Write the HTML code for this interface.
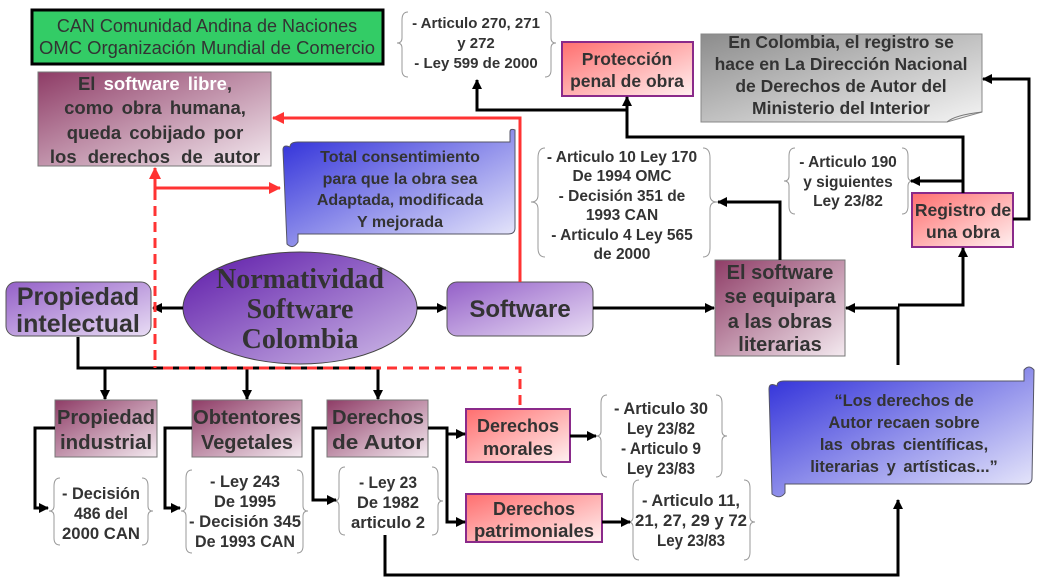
<!DOCTYPE html>
<html><head><meta charset="utf-8"><style>
html,body{margin:0;padding:0;background:#fff;}
svg{display:block;}
text{font-family:"Liberation Sans",sans-serif;font-weight:bold;fill:#333;text-anchor:middle;}
.s{font-family:"Liberation Serif","DejaVu Serif",serif;}
</style></head><body>
<svg width="1045" height="587" viewBox="0 0 1045 587" xmlns="http://www.w3.org/2000/svg">
<defs>
<linearGradient id="mar" x1="0" y1="0" x2="1" y2="1"><stop offset="0" stop-color="#8e3c66"/><stop offset="1" stop-color="#f4eaf0"/></linearGradient>
<linearGradient id="pur" x1="0" y1="0" x2="1" y2="1"><stop offset="0" stop-color="#9460c8"/><stop offset="1" stop-color="#e8dcf4"/></linearGradient>
<linearGradient id="ell" x1="0" y1="0" x2="1" y2="1"><stop offset="0" stop-color="#5c18a8"/><stop offset="1" stop-color="#d0bce8"/></linearGradient>
<linearGradient id="pink" x1="0" y1="0" x2="1" y2="1"><stop offset="0" stop-color="#ff6e6e"/><stop offset="1" stop-color="#fff0f0"/></linearGradient>
<linearGradient id="gray" x1="0" y1="0" x2="1" y2="1"><stop offset="0" stop-color="#8c8c8c"/><stop offset="1" stop-color="#f4f4f4"/></linearGradient>
<linearGradient id="blue" x1="0" y1="0" x2="1" y2="1"><stop offset="0" stop-color="#2a2ad8"/><stop offset="1" stop-color="#eeeefc"/></linearGradient>
<marker id="ab" markerWidth="10" markerHeight="10" refX="9" refY="5" orient="auto" markerUnits="userSpaceOnUse"><path d="M0,0 L10,5 L0,10 z" fill="#000"/></marker>
<marker id="ar" markerWidth="12" markerHeight="12" refX="11" refY="6" orient="auto" markerUnits="userSpaceOnUse"><path d="M0,0 L12,6 L0,12 z" fill="#f33"/></marker>
</defs>

<rect x="32" y="10" width="351" height="54" fill="#33cc66" stroke="#000" stroke-width="3"/>
<text x="207" y="32" style="font-weight:normal;font-size:18px">CAN Comunidad Andina de Naciones</text>
<text x="207" y="54" style="font-weight:normal;font-size:18px" textLength="336" lengthAdjust="spacingAndGlyphs">OMC Organización Mundial de Comercio</text>

<rect x="38" y="72" width="233" height="94" fill="url(#mar)" stroke="#777"/>
<text x="155" y="90" style="font-size:18.5px;word-spacing:3px">El <tspan fill="#fff">software libre</tspan>,</text>
<text x="155" y="114" style="font-size:18.5px;word-spacing:3px">como obra humana,</text>
<text x="155" y="139" style="font-size:18.5px;word-spacing:3px">queda cobijado por</text>
<text x="155" y="163" style="font-size:18.5px;word-spacing:6px">los derechos de autor</text>

<path d="M290,147 Q290,142 298,142 L510,142 L510,132 Q510,128 515,130 L515,228 Q515,234 508,234 L298,234 L298,242 Q293,250 287,244 L283,150 Q283,144 290,147z" fill="url(#blue)" stroke="#556"/>
<text x="400" y="162" style="font-size:16px">Total consentimiento</text>
<text x="400" y="184" style="font-size:16px">para que la obra sea</text>
<text x="400" y="205" style="font-size:16px">Adaptada, modificada</text>
<text x="400" y="227" style="font-size:16px">Y mejorada</text>

<path d="M408,12 Q402,12 402,20 L402,38 Q402,43 397,43 Q402,43 402,48 L402,70 Q402,77 408,77" fill="none" stroke="#999"/>
<text x="476" y="28" style="font-size:15px">- Articulo 270, 271</text>
<text x="476" y="48" style="font-size:15px">y 272</text>
<text x="476" y="68" style="font-size:15px">- Ley 599 de 2000</text>
<path d="M545,12 Q551,12 551,20 L551,38 Q551,43 556,43 Q551,43 551,48 L551,70 Q551,77 545,77" fill="none" stroke="#999"/>

<rect x="562" y="42" width="131" height="54" fill="url(#pink)" stroke="#8a2a8a" stroke-width="2"/>
<text x="627" y="65" style="font-size:17.5px">Protección</text>
<text x="627" y="87" style="font-size:17.5px">penal de obra</text>

<path d="M701,34 L982,34 L982,112 L947,122 L701,122z" fill="url(#gray)" stroke="#888"/>
<path d="M947,122 Q955,115 982,112" fill="none" stroke="#777"/>
<text x="841" y="48" style="font-size:17.5px">En Colombia, el registro se</text>
<text x="841" y="70" style="font-size:17.5px">hace en La Dirección Nacional</text>
<text x="841" y="92" style="font-size:17.5px">de Derechos de Autor del</text>
<text x="841" y="114" style="font-size:17.5px">Ministerio del Interior</text>

<ellipse cx="300" cy="308" rx="117" ry="56" fill="url(#ell)" stroke="#444"/>
<text class="s" x="300" y="288" style="font-size:28px">Normatividad</text>
<text class="s" x="300" y="318" style="font-size:28px">Software</text>
<text class="s" x="300" y="348" style="font-size:28px">Colombia</text>

<rect x="6" y="282" width="145" height="54" rx="10" fill="url(#pur)" stroke="#555"/>
<text x="78" y="305" style="font-size:25px">Propiedad</text>
<text x="78" y="332" style="font-size:25px">intelectual</text>

<rect x="447" y="282" width="146" height="54" rx="10" fill="url(#pur)" stroke="#555"/>
<text x="520" y="317" style="font-size:24px">Software</text>

<rect x="715" y="260" width="130" height="96" fill="url(#mar)" stroke="#777"/>
<text x="780" y="279" style="font-size:20px">El software</text>
<text x="780" y="303" style="font-size:20px">se equipara</text>
<text x="780" y="328" style="font-size:20px">a las obras</text>
<text x="780" y="351" style="font-size:20px">literarias</text>

<path d="M545,148 Q538,148 538,158 L538,195 Q538,202 531,202 Q538,202 538,209 L538,248 Q538,257 545,257" fill="none" stroke="#999"/>
<path d="M703,148 Q710,148 710,158 L710,195 Q710,202 717,202 Q710,202 710,209 L710,248 Q710,257 703,257" fill="none" stroke="#999"/>
<text x="622" y="162" style="font-size:15.5px">- Articulo 10 Ley 170</text>
<text x="622" y="181" style="font-size:15.5px">De 1994 OMC</text>
<text x="622" y="201" style="font-size:15.5px">- Decisión 351 de</text>
<text x="622" y="220" style="font-size:15.5px">1993 CAN</text>
<text x="622" y="240" style="font-size:15.5px">- Articulo 4 Ley 565</text>
<text x="622" y="259" style="font-size:15.5px">de 2000</text>

<path d="M795,148 Q789,148 789,156 L789,176 Q789,181 784,181 Q789,181 789,186 L789,206 Q789,214 795,214" fill="none" stroke="#999"/>
<path d="M902,148 Q908,148 908,156 L908,176 Q908,181 913,181 Q908,181 908,186 L908,206 Q908,214 902,214" fill="none" stroke="#999"/>
<text x="848" y="167" style="font-size:15.5px">- Articulo 190</text>
<text x="848" y="187" style="font-size:15.5px">y siguientes</text>
<text x="848" y="206" style="font-size:15.5px">Ley 23/82</text>

<rect x="912" y="193" width="101" height="54" fill="url(#pink)" stroke="#8a2a8a" stroke-width="2"/>
<text x="963" y="216" style="font-size:17.5px">Registro de</text>
<text x="963" y="238" style="font-size:17.5px">una obra</text>

<path d="M777,386 Q777,381 784,381 L1024,381 L1024,370 Q1029,364 1034,370 L1032,478 Q1032,484 1025,484 L785,484 L785,493 Q780,500 772,494 L769,389 Q769,382 777,386z" fill="url(#blue)" stroke="#556"/>
<text x="904" y="406" style="font-size:16.5px">“Los derechos de</text>
<text x="904" y="428" style="font-size:16.5px">Autor recaen sobre</text>
<text x="904" y="450" style="font-size:16.5px;word-spacing:3px">las obras científicas,</text>
<text x="904" y="472" style="font-size:16.5px;word-spacing:3px">literarias y artísticas...”</text>

<rect x="55" y="400" width="102" height="57" fill="url(#mar)" stroke="#777"/>
<text x="106" y="424" style="font-size:20px" textLength="98" lengthAdjust="spacingAndGlyphs">Propiedad</text>
<text x="106" y="449" style="font-size:20px" textLength="92" lengthAdjust="spacingAndGlyphs">industrial</text>
<rect x="192" y="400" width="110" height="57" fill="url(#mar)" stroke="#777"/>
<text x="247" y="424" style="font-size:20px" textLength="108" lengthAdjust="spacingAndGlyphs">Obtentores</text>
<text x="247" y="449" style="font-size:20px" textLength="92" lengthAdjust="spacingAndGlyphs">Vegetales</text>
<rect x="327" y="400" width="101" height="57" fill="url(#mar)" stroke="#777"/>
<text x="378" y="424" style="font-size:20px" textLength="92" lengthAdjust="spacingAndGlyphs">Derechos</text>
<text x="378" y="449" style="font-size:20px" textLength="92" lengthAdjust="spacingAndGlyphs">de Autor</text>
<rect x="466" y="409" width="104" height="53" fill="url(#pink)" stroke="#8a2a8a" stroke-width="2"/>
<text x="518" y="432" style="font-size:18px" textLength="82" lengthAdjust="spacingAndGlyphs">Derechos</text>
<text x="518" y="455" style="font-size:18px" textLength="70" lengthAdjust="spacingAndGlyphs">morales</text>
<rect x="466" y="494" width="136" height="48" fill="url(#pink)" stroke="#8a2a8a" stroke-width="2"/>
<text x="534" y="515" style="font-size:18px" textLength="82" lengthAdjust="spacingAndGlyphs">Derechos</text>
<text x="534" y="537" style="font-size:18px" textLength="120" lengthAdjust="spacingAndGlyphs">patrimoniales</text>

<g fill="none" stroke="#999">
<path d="M60,478 Q54,478 54,486 L54,506 Q54,511 49,511 Q54,511 54,516 L54,538 Q54,545 60,545"/>
<path d="M142,478 Q148,478 148,486 L148,506 Q148,511 153,511 Q148,511 148,516 L148,538 Q148,545 142,545"/>
<path d="M192,470 Q186,470 186,478 L186,506 Q186,511 181,511 Q186,511 186,516 L186,546 Q186,553 192,553"/>
<path d="M297,470 Q303,470 303,478 L303,506 Q303,511 308,511 Q303,511 303,516 L303,546 Q303,553 297,553"/>
<path d="M345,467 Q339,467 339,475 L339,496 Q339,501 334,501 Q339,501 339,506 L339,528 Q339,535 345,535"/>
<path d="M432,467 Q438,467 438,475 L438,496 Q438,501 443,501 Q438,501 438,506 L438,528 Q438,535 432,535"/>
<path d="M607,395 Q601,395 601,403 L601,431 Q601,436 596,436 Q601,436 601,441 L601,469 Q601,477 607,477"/>
<path d="M716,395 Q722,395 722,403 L722,431 Q722,436 727,436 Q722,436 722,441 L722,469 Q722,477 716,477"/>
<path d="M639,480 Q633,480 633,488 L633,517 Q633,522 628,522 Q633,522 633,527 L633,552 Q633,560 639,560"/>
<path d="M744,480 Q750,480 750,488 L750,517 Q750,522 755,522 Q750,522 750,527 L750,552 Q750,560 744,560"/>
</g>
<g style="font-size:16.5px">
<text x="101" y="499" textLength="78" lengthAdjust="spacingAndGlyphs">- Decisión</text>
<text x="101" y="519" textLength="54" lengthAdjust="spacingAndGlyphs">486 del</text>
<text x="101" y="539" textLength="78" lengthAdjust="spacingAndGlyphs">2000 CAN</text>
<text x="245" y="487" textLength="70" lengthAdjust="spacingAndGlyphs">- Ley 243</text>
<text x="245" y="507" textLength="62" lengthAdjust="spacingAndGlyphs">De 1995</text>
<text x="245" y="527" textLength="112" lengthAdjust="spacingAndGlyphs">- Decisión 345</text>
<text x="245" y="547" textLength="100" lengthAdjust="spacingAndGlyphs">De 1993 CAN</text>
<text x="388" y="488" textLength="58" lengthAdjust="spacingAndGlyphs">- Ley 23</text>
<text x="388" y="508" textLength="62" lengthAdjust="spacingAndGlyphs">De 1982</text>
<text x="388" y="528" textLength="74" lengthAdjust="spacingAndGlyphs">articulo 2</text>
<text x="661" y="414" textLength="94" lengthAdjust="spacingAndGlyphs">- Articulo 30</text>
<text x="661" y="434" textLength="68" lengthAdjust="spacingAndGlyphs">Ley 23/82</text>
<text x="661" y="454" textLength="80" lengthAdjust="spacingAndGlyphs">- Articulo 9</text>
<text x="661" y="474" textLength="68" lengthAdjust="spacingAndGlyphs">Ley 23/83</text>
<text x="691" y="506" textLength="98" lengthAdjust="spacingAndGlyphs">- Articulo 11,</text>
<text x="691" y="526" textLength="112" lengthAdjust="spacingAndGlyphs">21, 27, 29 y 72</text>
<text x="691" y="546" textLength="68" lengthAdjust="spacingAndGlyphs">Ley 23/83</text>
</g>

<g stroke="#000" stroke-width="3" fill="none">
<line x1="183" y1="308" x2="153" y2="308" marker-end="url(#ab)"/>
<line x1="417" y1="308" x2="446" y2="308" marker-end="url(#ab)"/>
<line x1="593" y1="308" x2="714" y2="308" marker-end="url(#ab)"/>
<polyline points="898,365 898,308 846,308" marker-end="url(#ab)"/>
<polyline points="898,305 963,305 963,248" marker-end="url(#ab)"/>
<polyline points="963,193 963,137 627,137 627,97" marker-end="url(#ab)"/>
<polyline points="627,110 477,110 477,80" marker-end="url(#ab)"/>
<polyline points="963,181 911,181" marker-end="url(#ab)"/>
<polyline points="1013,219 1029,219 1029,79 983,79" marker-end="url(#ab)"/>
<polyline points="780,260 780,202 718,202" marker-end="url(#ab)"/>
<polyline points="78,337 78,368 378,368"/>
<line x1="105" y1="368" x2="105" y2="399" marker-end="url(#ab)"/>
<line x1="247" y1="368" x2="247" y2="399" marker-end="url(#ab)"/>
<line x1="378" y1="368" x2="378" y2="399" marker-end="url(#ab)"/>
<polyline points="55,428 35,428 35,508 48,508" marker-end="url(#ab)"/>
<polyline points="192,428 165,428 165,508 180,508" marker-end="url(#ab)"/>
<polyline points="327,428 313,428 313,500 336,500" marker-end="url(#ab)"/>
<polyline points="428,428 447,428 447,522 465,522" marker-end="url(#ab)"/>
<line x1="447" y1="434" x2="465" y2="434" marker-end="url(#ab)"/>
<line x1="570" y1="436" x2="596" y2="436" marker-end="url(#ab)"/>
<line x1="602" y1="522" x2="630" y2="522" marker-end="url(#ab)"/>
<polyline points="385,535 385,575 898,575 898,500" marker-end="url(#ab)"/>
</g>

<g stroke="#f33" stroke-width="3" fill="none">
<polyline points="520,282 520,118 273,118" marker-end="url(#ar)"/>
<line x1="155" y1="188" x2="280" y2="188" marker-end="url(#ar)"/>
<line x1="155" y1="190" x2="155" y2="168" marker-end="url(#ar)"/>
<line x1="155" y1="190" x2="155" y2="368" stroke-dasharray="10,6"/>
<polyline points="163,368 520,368 520,407" stroke-dasharray="10,6"/>
</g>
</svg>
</body></html>
